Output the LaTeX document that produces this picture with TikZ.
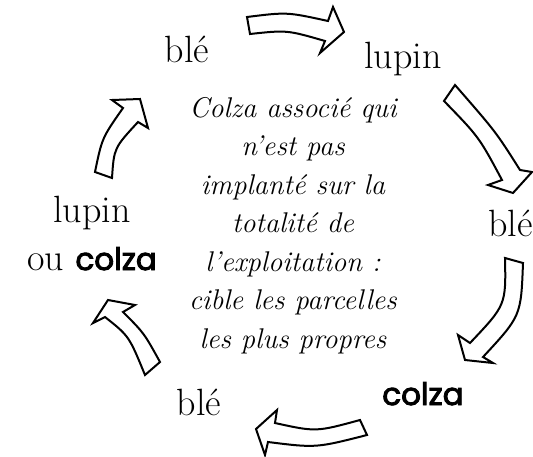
\documentclass[tikz,border=0pt]{standalone}
\usepackage{fontspec}
\newfontfamily\colzafont{Poppins}[BoldFont=Poppins, BoldFeatures={FakeBold=3}]
\begin{document}
\begin{tikzpicture}[x=1pt,y=-1pt,
  lab/.style={font=\fontsize{38}{44}\selectfont, anchor=base, inner sep=0pt},
  cz/.style={font=\colzafont\bfseries\fontsize{31}{36}\selectfont, anchor=base, inner sep=0pt},
  ctr/.style={font=\itshape\fontsize{28.5}{38.5}\selectfont, anchor=base, inner sep=0pt},
  arr/.style={draw=black, line width=2pt, fill=white, line join=miter}]
\useasboundingbox (0,0) rectangle (533,456);

% labels
\node[lab] (b1) at (187,62) {blé};
\node[lab] (l1) at (403,68) {lupin};
\node[lab, anchor=base west] (b2) at (488,236) {blé};
\node[cz] (c2) at (423,405) {colza};
\node[lab] (b3) at (199,415) {blé};
\node[lab] (l2) at (92,222) {lupin};
\node[lab] (oc) at (92,270) {ou {\colzafont\bfseries\fontsize{31}{36}\selectfont colza}};

% centre text
\node[ctr] (t1) at (293,117) {Colza associé qui};
\node[ctr] (t2) at (293,155.5) {n'est pas};
\node[ctr] (t3) at (293,194) {implanté sur la};
\node[ctr] (t4) at (293,232.5) {totalité de};
\node[ctr] (t5) at (293,271) {l'exploitation :};
\node[ctr] (t6) at (293,309.5) {cible les parcelles};
\node[ctr] (t7) at (293,348) {les plus propres};

% block arrows
\draw[arr] (247,17) .. controls (287,12) .. (328,21) -- (333,7) -- (344,32)
  -- (320,53) -- (325,41) .. controls (287,30) .. (250,34) -- cycle;
\draw[arr] (455,85) .. controls (496,132) .. (520,170) -- (532,172) -- (513,193)
  -- (488,185) -- (502,180) .. controls (479,137) .. (444,101) -- cycle;
\draw[arr] (505,258) -- (523,263) .. controls (521,316) .. (483,357) -- (493,363)
  -- (465,360) -- (458,335) -- (470,343) .. controls (506,305) .. (505,258) -- cycle;
\draw[arr] (360,420) .. controls (316,432) .. (275,423) -- (277,410) -- (256,429)
  -- (265,455) -- (268,442) .. controls (316,448) .. (367,435) -- cycle;
\draw[arr] (145,375) .. controls (129,336) .. (105,317) -- (93,323) -- (108,300)
  -- (135,305) -- (123,312) .. controls (144,333) .. (160,362) -- cycle;
\draw[arr] (95,172) .. controls (102,138) .. (123,108) -- (112,100) -- (140,99)
  -- (148,128) -- (138,122) .. controls (114,148) .. (112,178) -- cycle;
\end{tikzpicture}
\end{document}
